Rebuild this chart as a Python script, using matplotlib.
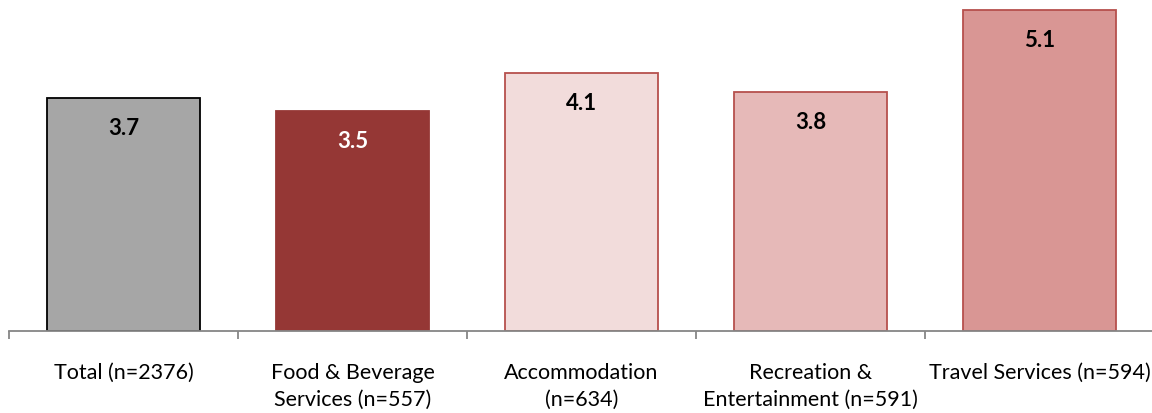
import matplotlib
matplotlib.use("Agg")
import matplotlib.pyplot as plt
from matplotlib.ticker import FixedLocator

plt.rcParams['font.family'] = ['Lato', 'DejaVu Sans']

categories = [
    "Total (n=2376)",
    "Food & Beverage\nServices (n=557)",
    "Accommodation\n(n=634)",
    "Recreation &\nEntertainment (n=591)",
    "Travel Services (n=594)",
]
values = [3.7, 3.5, 4.1, 3.8, 5.1]
labels = ["3.7", "3.5", "4.1", "3.8", "5.1"]
fill_colors = ["#A6A6A6", "#953735", "#F2DCDB", "#E6B9B8", "#D99694"]
edge_colors = ["#000000", "#953735", "#B6504D", "#B6504D", "#B6504D"]
text_colors = ["black", "white", "black", "black", "black"]

W, H, DPI = 1152, 414, 100
fig = plt.figure(figsize=(W / DPI, H / DPI), dpi=DPI)
ax = fig.add_axes([9 / W, (H - 332) / H, 1145 / W, 332 / H])

x = list(range(len(values)))
bars = ax.bar(x, values, width=0.67, color=fill_colors,
              edgecolor=edge_colors, linewidth=1.3, zorder=2)

for b, lab, tc in zip(bars, labels, text_colors):
    ax.annotate(lab, (b.get_x() + b.get_width() / 2, b.get_height()),
                xytext=(0, -21), textcoords="offset points",
                ha="center", va="center", fontsize=16, fontweight="bold",
                color=tc)

ax.set_xlim(-0.5, len(values) - 0.5)
ax.set_ylim(0, 5.28)

for s in ["top", "right", "left"]:
    ax.spines[s].set_visible(False)
ax.spines["bottom"].set_color("#868686")
ax.spines["bottom"].set_linewidth(1.3)
ax.set_yticks([])

ax.set_xticks(x)
ax.set_xticklabels(categories, fontsize=15.5, linespacing=1.45)
ax.tick_params(axis="x", which="major", length=0, pad=22)
ax.xaxis.set_minor_locator(FixedLocator([i - 0.5 for i in range(len(values) + 1)]))
ax.tick_params(axis="x", which="minor", length=6, width=1.3, color="#868686")

fig.savefig("out.png", dpi=DPI)
